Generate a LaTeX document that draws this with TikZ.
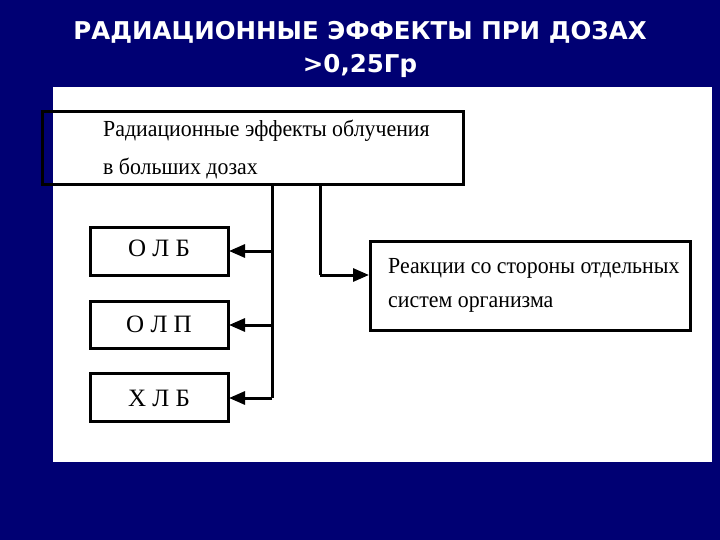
\documentclass[tikz,border=0pt]{standalone}
\usepackage{fontspec}
\usetikzlibrary{arrows.meta}
\setmainfont{Liberation Serif}
\newfontfamily\titlefont{DejaVu Sans}
\begin{document}
\begin{tikzpicture}[x=1pt,y=-1pt,
  bx/.style={draw=black,line width=3pt},
  conn/.style={draw=black,line width=3pt},
  arr/.style={draw=black,line width=3pt,-{Triangle[length=16pt,width=13pt]}},
  lbl/.style={font=\fontsize{23}{23}\selectfont,anchor=west,inner sep=0pt,xscale=0.95}]
\useasboundingbox (0,0) rectangle (720,540);
\fill[blue!45!black] (0,0) rectangle (720,540);
\node[font=\titlefont\bfseries\fontsize{24.5}{24.5}\selectfont,text=white] (t1) at (360,32) {РАДИАЦИОННЫЕ ЭФФЕКТЫ ПРИ ДОЗАХ};
\node[font=\titlefont\bfseries\fontsize{24.5}{24.5}\selectfont,text=white] (t2) at (360,66) {>0,25Гр};
\fill[white] (53,87) rectangle (712,462);
\draw[bx] (42,112) rectangle (463,185);
\node[lbl] (a1) at (103,131) {Радиационные эффекты облучения};
\node[lbl] (a2) at (103,168) {в больших дозах};
\draw[bx] (370,241) rectangle (690,330);
\node[lbl] (r1) at (388,268) {Реакции со стороны отдельных};
\node[lbl] (r2) at (388,305) {систем организма};
\draw[bx] (90,228) rectangle (228,275);
\draw[bx] (90,301) rectangle (228,348);
\draw[bx] (90,373) rectangle (228,421);
\node[font=\fontsize{25}{25}\selectfont] (b1) at (159,248) {О Л Б};
\node[font=\fontsize{25}{25}\selectfont] (b2) at (159,324) {О Л П};
\node[font=\fontsize{25}{25}\selectfont] (b3) at (159,398) {Х Л Б};
\coordinate (v0) at (272,185);
\coordinate (v3) at (272,398);
\draw[conn] (v0) -- (v3);
\draw[arr] (272,251) -- (229,251);
\draw[arr] (272,325) -- (229,325);
\draw[arr] (272,398) -- (229,398);
\draw[conn] (320,185) -- (320,275);
\draw[arr] (320,275) -- (369,275);
\end{tikzpicture}
\end{document}
